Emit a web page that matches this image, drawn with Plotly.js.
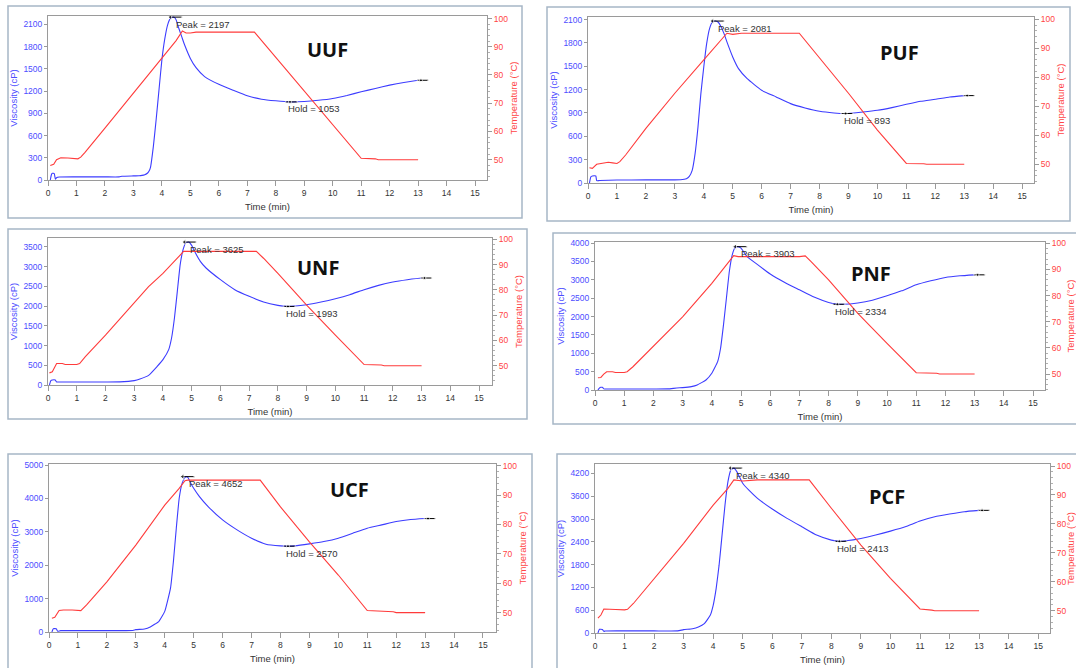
<!DOCTYPE html>
<html><head><meta charset="utf-8">
<script src="https://cdn.plot.ly/plotly-3.0.1.min.js"></script>
<style>html,body{margin:0;padding:0;background:#fff}#chart{width:1076px;height:668px}</style>
</head><body><div id="chart"></div>
<script>
// ---------- DATA ----------
const panelNames = ['UUF','PUF','UNF','PNF','UCF','PCF'];

const uufVisTime = [0.08,0.12,0.15,0.22,0.26,0.3,0.4,1,2,2.5,2.6,3.0,3.2,3.3,3.4,3.5,3.55,3.6,3.7,3.8,3.9,4.0,4.1,4.2,4.3,4.4,4.45,4.5,4.6,4.7,4.8,5.0,5.2,5.5,6,6.5,7,7.5,8,8.5,9,9.5,10,10.5,11,11.5,12,12.5,13];
const uufVisc    = [0,70,90,85,10,30,40,42,42,42,50,55,58,62,72,94,120,170,450,820,1220,1620,1900,2090,2180,2197,2190,2160,2040,1930,1820,1640,1515,1395,1290,1210,1135,1090,1068,1053,1058,1075,1100,1140,1190,1235,1280,1315,1345];
const uufTempTime = [0.08,0.2,0.3,0.45,0.7,0.9,1.05,1.15,1.3,2,3,4,4.5,4.72,4.85,5.0,5.2,7.25,8,9,10,11,11.5,11.6,13];
const uufTemp     = [47.9,48.4,50,50.7,50.6,50.3,50.3,50.9,52.6,61.2,73.5,86.2,92.2,95.6,94.9,94.9,95.2,95.2,86.3,74.5,62.7,50.5,50.3,50,50];

const pufVisTime = [0.05,0.1,0.15,0.27,0.3,0.4,1,2,3,3.2,3.4,3.5,3.6,3.7,3.8,3.9,4.0,4.1,4.2,4.3,4.4,4.5,4.6,4.7,4.8,5.0,5.2,5.5,6,6.5,7,7.5,8,8.5,8.9,9.5,10,10.5,11,11.5,12,12.5,13];
const pufVisc    = [0,80,90,90,30,32,38,40,40,42,56,86,163,377,720,1149,1491,1791,1984,2070,2081,2065,2006,1920,1813,1620,1470,1341,1191,1106,1020,964,921,900,893,913,934,969,1011,1050,1076,1106,1123];
const pufTempTime = [0.05,0.15,0.3,0.5,0.7,0.85,1.0,1.1,1.3,2,3,4,4.5,4.8,5.0,5.3,7.3,8,9,10,11,11.6,11.7,13];
const pufTemp     = [48.8,48.6,50,50.3,50.7,50.5,50.3,50.9,53.2,62.4,74.5,86,91.7,95.2,94.8,95.2,95.2,86.6,74.5,61.8,50.3,50.2,50,50];

const unfVisTime = [0.05,0.1,0.15,0.25,0.3,0.4,1,2,2.5,2.8,3.0,3.2,3.5,3.8,4.0,4.2,4.3,4.4,4.5,4.6,4.7,4.8,4.9,5.0,5.1,5.3,5.5,6,6.5,7,7.5,8,8.3,9,9.5,10,10.5,11,11.5,12,12.5,13];
const unfVisc    = [0,110,127,127,76,76,76,76,78,93,110,152,245,473,642,896,1192,1699,2375,3052,3432,3610,3625,3542,3390,3136,2967,2671,2418,2249,2105,2020,1993,2037,2105,2189,2291,2418,2527,2612,2671,2713];
const unfTempTime = [0.05,0.15,0.3,0.5,0.6,1.0,1.1,1.3,2,3,3.5,4,4.5,4.72,7.25,7.5,8,9,10,11,11.6,11.7,13];
const unfTemp     = [47.2,47.6,50.9,50.9,50.5,50.5,50.9,53.6,62.1,75.1,81.3,86.5,92.5,95.2,95.2,92.5,86.5,74,62.1,50.5,50.3,50,50];

const pnfVisTime = [0.1,0.15,0.2,0.25,0.3,0.4,1,2,2.5,2.8,3.0,3.3,3.5,3.8,4.0,4.2,4.3,4.4,4.5,4.6,4.7,4.8,4.9,5.0,5.2,5.5,6,6.5,7,7.5,8,8.3,8.5,9,9.5,10,10.5,11,11.5,12,12.5,13];
const pnfVisc    = [0,50,73,73,36,27,27,28,30,55,64,91,136,273,455,773,1136,1773,2500,3227,3682,3882,3903,3864,3640,3455,3160,2930,2730,2530,2385,2340,2334,2370,2445,2564,2700,2864,2973,3064,3109,3136];
const pnfTempTime = [0.1,0.2,0.3,0.4,0.6,0.7,1.0,1.1,1.3,2,3,4,4.5,4.75,4.9,7.0,7.2,7.4,8,9,10,11,11.7,11.8,13];
const pnfTemp     = [48.6,48.7,50,50.9,50.9,50.6,50.6,50.9,52.8,60.5,71.9,84.7,91.7,95.3,94.9,94.9,95.2,93,86,73.2,61.7,50.5,50.3,50,50];

const ucfVisTime = [0.1,0.15,0.25,0.3,0.4,1,2,2.9,3.0,3.3,3.5,3.8,4.0,4.2,4.3,4.4,4.5,4.6,4.7,4.75,4.8,4.9,5.0,5.2,5.5,6,6.5,7,7.5,8,8.26,8.5,9,9.5,10,10.5,11,11.5,12,12.5,13];
const ucfVisc    = [0,100,95,20,40,40,42,45,70,90,150,320,617,1315,2112,3108,4004,4452,4632,4652,4632,4452,4303,4054,3755,3357,3058,2809,2630,2580,2570,2580,2639,2709,2809,2958,3108,3207,3307,3367,3396];
const ucfTempTime = [0.1,0.2,0.35,0.5,0.8,1.0,1.1,1.3,2,3,4,4.5,4.7,4.8,7.3,8,9,10,11,11.9,12,13];
const ucfTemp     = [48.1,48.4,50.7,50.9,50.9,50.6,50.7,52.6,60.5,73,86.6,92.3,94.9,95.1,95.1,86,74.1,62.8,50.7,50.3,50,50];

const pcfVisTime = [0.1,0.15,0.25,0.3,0.35,1,2,2.8,3.0,3.3,3.5,3.7,3.9,4.0,4.1,4.2,4.3,4.4,4.5,4.6,4.7,4.8,4.9,5.0,5.2,5.5,6,6.5,7,7.5,8,8.27,8.5,9,9.5,10,10.5,11,11.5,12,12.5,13];
const pcfVisc    = [0,97,90,44,53,55,55,55,88,114,158,246,466,730,1170,1785,2577,3369,3984,4292,4340,4248,4090,3940,3764,3544,3263,3017,2797,2577,2445,2413,2427,2489,2577,2682,2797,2946,3061,3131,3193,3228];
const pcfTempTime = [0.1,0.2,0.3,0.5,0.7,1.0,1.1,1.3,2,3,4,4.5,4.7,4.9,5.0,5.5,7.25,8,9,10,11,11.4,11.5,13];
const pcfTemp     = [47.4,48.5,50.6,50.6,50.4,50.3,50.5,52.5,61.2,73.3,86.5,92.3,95.2,94.8,94.8,95.2,95.2,85.4,72.7,61.2,50.6,50.2,50,50];

const peakTimes   = [4.4, 4.4, 4.85, 4.9, 4.72, 4.68];
const peakValues  = [2197, 2081, 3625, 3903, 4652, 4340];
const holdTimes   = [8.5, 8.9, 8.35, 8.3, 8.26, 8.27];
const holdValues  = [1053, 893, 1993, 2334, 2570, 2413];
const finalTimes  = [13.1, 13.1, 13.1, 13.1, 13.1, 13.1];
const finalValues = [1345, 1123, 2713, 3136, 3396, 3228];

const visTimes = [uufVisTime, pufVisTime, unfVisTime, pnfVisTime, ucfVisTime, pcfVisTime];
const viscs    = [uufVisc, pufVisc, unfVisc, pnfVisc, ucfVisc, pcfVisc];
const tempTimes= [uufTempTime, pufTempTime, unfTempTime, pnfTempTime, ucfTempTime, pcfTempTime];
const temps    = [uufTemp, pufTemp, unfTemp, pnfTemp, ucfTemp, pcfTemp];
const viscDticks = [300, 300, 500, 500, 1000, 600];

// ---------- LAYOUT GEOMETRY (pixels) ----------
const W = 1076, H = 668;
const geom = [
  {frame:[8,6,522,218],    plot:[48,16,487,180],   xMax:15.42, yMax:2212, y2:[42.8,100.9], lab:[327,50]},
  {frame:[547,7,1070,221], plot:[588,17,1034,183], xMax:15.41, yMax:2133, y2:[43.55,100.8], lab:[899,52]},
  {frame:[8,229,527,419],  plot:[48,238,492,385],  xMax:15.45, yMax:3728, y2:[42.4,100.5], lab:[318,268]},
  {frame:[553,233,1082,424],plot:[595,242,1045,390],xMax:15.41, yMax:4030, y2:[43.9,100.5], lab:[871,273]},
  {frame:[8,454,532,672],  plot:[49,464,496,632],  xMax:15.45, yMax:5030, y2:[43.4,100.6], lab:[349,490]},
  {frame:[557,454,1082,672],plot:[595,464,1050,633],xMax:15.4, yMax:4448, y2:[42.3,100.7], lab:[887,497]}
];

const FONT = 'Liberation Sans, Arial, sans-serif';
const BLUE = '#3c3cff', RED = '#ff3b3b', BLUE_TXT = '#4d4dff', RED_TXT = '#ff4545';
const AXC = '#9a9a9a';

const traces = [];
const layout = {
  width: W, height: H, margin: {l:0, r:0, t:0, b:0},
  paper_bgcolor: '#fff', plot_bgcolor: '#fff', showlegend: false,
  shapes: [], annotations: []
};

for (let i = 0; i < 6; i++) {
  const g = geom[i];
  const xa = i === 0 ? 'x' : 'x' + (i + 1);
  const ya = (2 * i + 1) === 1 ? 'y' : 'y' + (2 * i + 1);
  const yb = 'y' + (2 * i + 2);
  const xKey = 'xaxis' + (i === 0 ? '' : i + 1);
  const yaKey = 'yaxis' + ((2 * i + 1) === 1 ? '' : 2 * i + 1);
  const ybKey = 'yaxis' + (2 * i + 2);
  const [l, t, r, b] = g.plot;
  const xd = [l / W, r / W];
  const yd = [1 - b / H, 1 - t / H];

  layout[xKey] = {
    domain: xd, anchor: ya, range: [0, g.xMax], tick0: 0, dtick: 1,
    ticks: 'outside', ticklen: 5, tickcolor: AXC, showline: true, mirror: true,
    linecolor: AXC, linewidth: 1, showgrid: false, zeroline: false, fixedrange: true,
    tickfont: {family: FONT, size: 8.5, color: '#333'},
    title: {text: 'Time (min)', font: {family: FONT, size: 9.5, color: '#333'}, standoff: 6}
  };
  layout[yaKey] = {
    domain: yd, anchor: xa, range: [0, g.yMax], tick0: 0, dtick: viscDticks[i],
    ticks: 'outside', ticklen: 3, tickcolor: AXC, showline: true, linecolor: AXC,
    showgrid: false, zeroline: false, fixedrange: true,
    tickfont: {family: FONT, size: 8.5, color: BLUE_TXT},
    title: {text: 'Viscosity (cP)', font: {family: FONT, size: 9.5, color: BLUE_TXT}, standoff: 4}
  };
  layout[ybKey] = {
    domain: yd, anchor: xa, overlaying: ya, side: 'right', range: g.y2,
    tick0: 0, dtick: 10, ticks: 'outside', ticklen: 4, tickcolor: AXC,
    minor: {dtick: 2, ticks: 'outside', ticklen: 2, tickcolor: '#b0b0b0'},
    showline: true, linecolor: AXC, showgrid: false, zeroline: false, fixedrange: true,
    tickfont: {family: FONT, size: 8.5, color: RED_TXT},
    title: {text: 'Temperature (°C)', font: {family: FONT, size: 9.5, color: RED_TXT}, standoff: 3}
  };

  // curves
  traces.push({x: tempTimes[i], y: temps[i], xaxis: xa, yaxis: yb, type: 'scatter', mode: 'lines',
               line: {color: RED, width: 1.1}, hoverinfo: 'skip'});
  traces.push({x: visTimes[i], y: viscs[i], xaxis: xa, yaxis: ya, type: 'scatter', mode: 'lines',
               line: {color: BLUE, width: 1.1, shape: 'spline', smoothing: 0.4}, hoverinfo: 'skip'});

  // peak / hold / final markers
  const pT = peakTimes[i], pV = peakValues[i];
  traces.push({x: [pT - 0.1, pT + 0.3], y: [pV, pV], xaxis: xa, yaxis: ya, type: 'scatter',
               mode: 'lines+markers', line: {color: '#000', width: 1},
               marker: {symbol: ['triangle-left', 'circle'], size: [5, 1], color: '#000'}, hoverinfo: 'skip'});
  const hT = holdTimes[i], hV = holdValues[i];
  traces.push({x: [hT - 0.15, hT, hT + 0.25], y: [hV, hV, hV], xaxis: xa, yaxis: ya, type: 'scatter',
               mode: 'lines+markers', line: {color: '#000', width: 1},
               marker: {size: [1, 3, 1], color: '#000'}, hoverinfo: 'skip'});
  const fT = finalTimes[i], fV = finalValues[i];
  traces.push({x: [fT - 0.12, fT, fT + 0.25], y: [fV, fV, fV], xaxis: xa, yaxis: ya, type: 'scatter',
               mode: 'lines+markers', line: {color: '#000', width: 1},
               marker: {size: [1, 3, 1], color: '#000'}, hoverinfo: 'skip'});

  layout.annotations.push({xref: xa, yref: ya, x: pT, y: pV, text: 'Peak = ' + pV,
    xanchor: 'left', yanchor: 'middle', xshift: 1, yshift: -7, showarrow: false,
    font: {family: FONT, size: 9.5, color: '#333'}});
  layout.annotations.push({xref: xa, yref: ya, x: hT, y: hV, text: 'Hold = ' + hV,
    xanchor: 'left', yanchor: 'middle', xshift: -4, yshift: -7, showarrow: false,
    font: {family: FONT, size: 9.5, color: '#333'}});
  layout.annotations.push({xref: 'paper', yref: 'paper', x: g.lab[0] / W, y: 1 - g.lab[1] / H,
    text: '<b>' + panelNames[i] + '</b>', xanchor: 'center', yanchor: 'middle', showarrow: false,
    font: {family: 'Open Sans, sans-serif', size: 20, color: '#111'}});

  const [fx0, fy0, fx1, fy1] = g.frame;
  layout.shapes.push({type: 'rect', xref: 'paper', yref: 'paper', x0: fx0 / W, x1: fx1 / W,
    y0: 1 - fy1 / H, y1: 1 - fy0 / H, line: {color: '#a6b6c6', width: 1.5}, layer: 'below'});
}

Plotly.newPlot('chart', traces, layout, {staticPlot: true, displayModeBar: false});
</script>
</body></html>
